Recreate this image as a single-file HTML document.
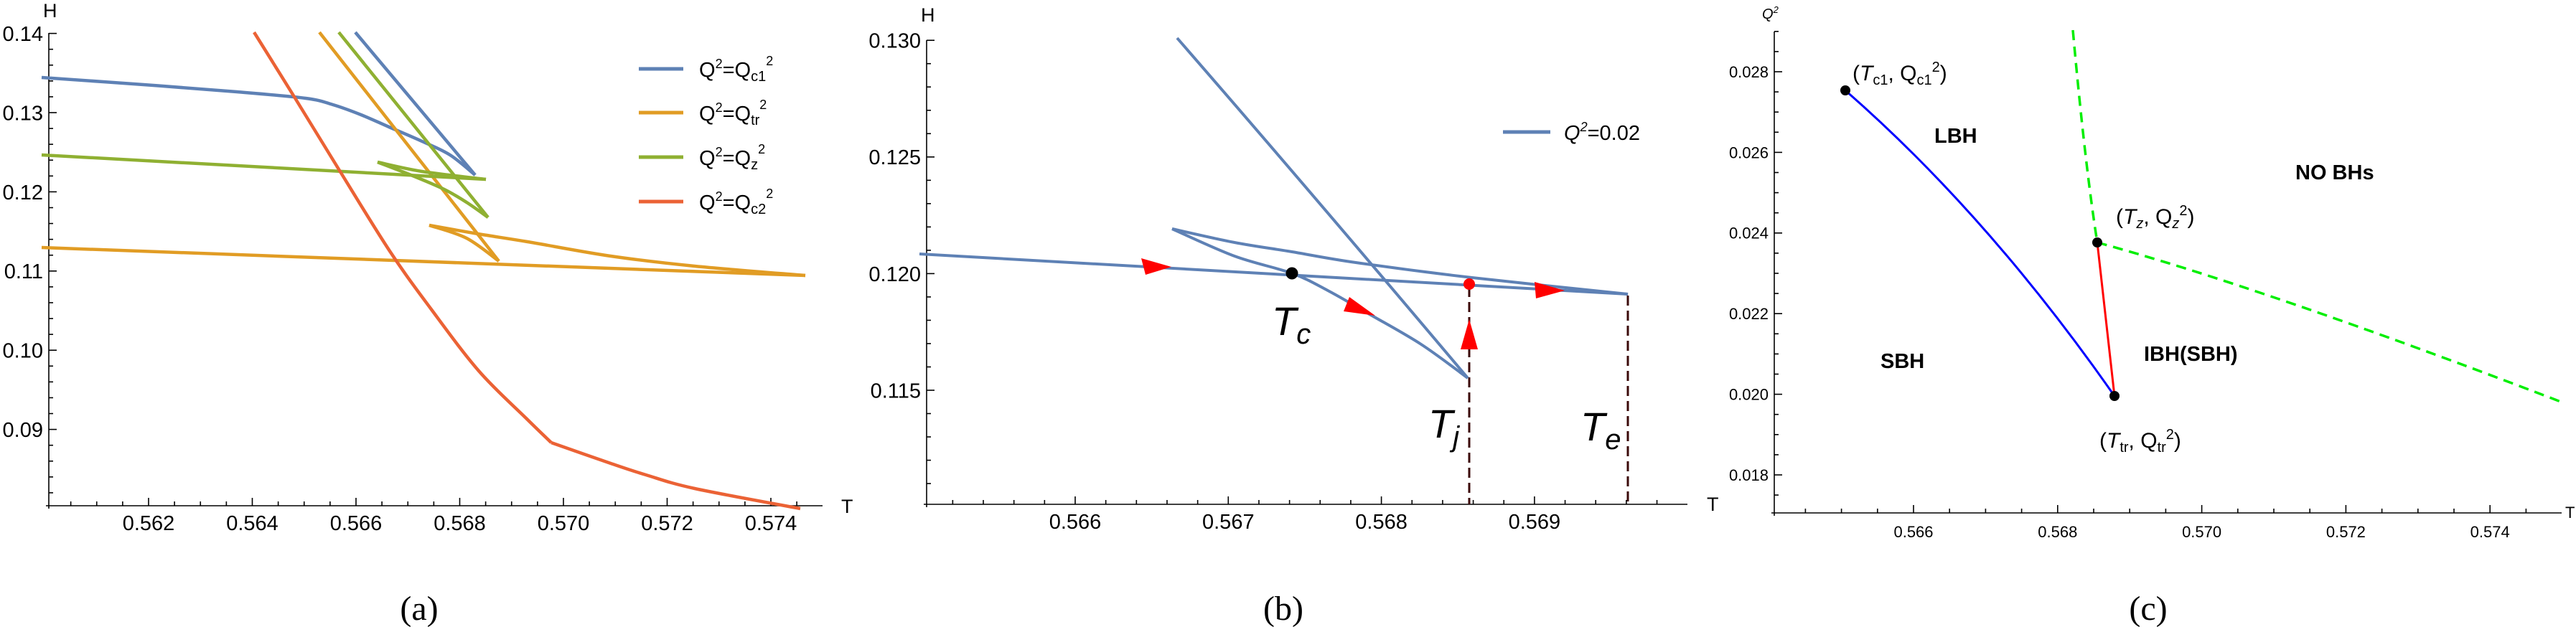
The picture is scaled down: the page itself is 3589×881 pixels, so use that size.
<!DOCTYPE html>
<html><head><meta charset="utf-8"><style>
html,body{margin:0;padding:0;background:#fff;}
svg{display:block;}
text{font-family:"Liberation Sans",sans-serif;}
text.cap{font-family:"Liberation Serif",serif;}
</style></head><body>
<svg id="s" width="3589" height="881" viewBox="0 0 3589 881" xmlns="http://www.w3.org/2000/svg">
<rect width="3589" height="881" fill="#fff"/>
<g id="ax" stroke="#000" stroke-width="1.6" fill="none"></g>
<g id="lb" font-size="29" fill="#000"></g>

<!-- Panel A curves -->
<g fill="none" stroke-width="4.5" stroke-linejoin="round" stroke-linecap="butt">
<polyline class="sm" stroke="#5e81b5" points="58,108 200,118 330,128 426,137 464,146 503,160 542,177 588,197 627,216 662,244"/>
<line stroke="#5e81b5" x1="662" y1="244" x2="495" y2="45"/>
<line stroke="#e19c24" x1="58" y1="345" x2="1122" y2="384"/>
<polyline class="sm" stroke="#e19c24" points="1122,384 968,371 851,357 735,337 666,326 598,314"/>
<polyline class="sm" stroke="#e19c24" points="598,314 650,332 695,364"/>
<line stroke="#e19c24" x1="695" y1="364" x2="445" y2="45"/>
<line stroke="#8fb032" x1="58" y1="216" x2="677" y2="250"/>
<polyline class="sm" stroke="#8fb032" points="677,250 588,239 526,226"/>
<polyline class="sm" stroke="#8fb032" points="526,226 575,245 619,264 650,282 680,303"/>
<line stroke="#8fb032" x1="680" y1="303" x2="472" y2="45"/>
<polyline class="sm" stroke="#eb6235" points="354,45 410,135 472,236 543,350 600,430 667,517 733,583 768,617"/>
<polyline class="sm" stroke="#eb6235" points="768,617 851,646 900,662 968,681 1115,709"/>
</g>
<g stroke-width="5">
<line x1="890" y1="96" x2="952" y2="96" stroke="#5e81b5"/>
<line x1="890" y1="157" x2="952" y2="157" stroke="#e19c24"/>
<line x1="890" y1="219" x2="952" y2="219" stroke="#8fb032"/>
<line x1="890" y1="281" x2="952" y2="281" stroke="#eb6235"/>
</g>
<g font-size="29">
<text x="974" y="107">Q<tspan font-size="18" dy="-12">2</tspan><tspan dy="12">=Q</tspan><tspan font-size="20" dy="6">c1</tspan><tspan font-size="18" dy="-22">2</tspan></text>
<text x="974" y="168">Q<tspan font-size="18" dy="-12">2</tspan><tspan dy="12">=Q</tspan><tspan font-size="20" dy="6">tr</tspan><tspan font-size="18" dy="-22">2</tspan></text>
<text x="974" y="230">Q<tspan font-size="18" dy="-12">2</tspan><tspan dy="12">=Q</tspan><tspan font-size="20" dy="6">z</tspan><tspan font-size="18" dy="-22">2</tspan></text>
<text x="974" y="292">Q<tspan font-size="18" dy="-12">2</tspan><tspan dy="12">=Q</tspan><tspan font-size="20" dy="6">c2</tspan><tspan font-size="18" dy="-22">2</tspan></text>
</g>

<!-- Panel B -->
<g stroke="#3b0a0a" stroke-width="3" stroke-dasharray="14,7">
<line x1="2047" y1="400" x2="2047" y2="703"/>
<line x1="2268" y1="412" x2="2268" y2="703"/>
</g>
<g fill="none" stroke="#5e81b5" stroke-width="4" stroke-linejoin="round">
<line x1="1281" y1="354" x2="2268" y2="410"/>
<polyline class="sm" points="1633,319 1720,338 1800,351 1889,366 2051,387 2268,410"/>
<polyline class="sm" points="1633,319 1720,357 1800,381 1850,405 1908,438 1980,480 2045,527"/>
<path d="M2045,527 Q1820,260 1640,53"/>
</g>
<g fill="#ff0000">
<polygon points="1632,372 1590,360 1596,383"/>
<polygon points="1916,440 1880,414 1872,434"/>
<polygon points="2180,405 2138,393 2140,416"/>
<polygon points="2047,445 2035,487 2059,487"/>
<circle cx="2047" cy="396" r="8"/>
</g>
<circle cx="1800" cy="381" r="8.5" fill="#000"/>
<line x1="2094" y1="184" x2="2160" y2="184" stroke="#5e81b5" stroke-width="5"/>
<text x="2179" y="195" font-size="29" font-style="italic">Q<tspan font-size="18" dy="-12">2</tspan><tspan dy="12" font-style="normal">=0.02</tspan></text>
<g font-size="56" font-style="italic">
<text x="1772" y="467">T<tspan font-size="40" dy="12">c</tspan></text>
<text x="1990" y="610">T<tspan font-size="40" dy="12">j</tspan></text>
<text x="2202" y="614">T<tspan font-size="40" dy="12">e</tspan></text>
</g>

<!-- Panel C -->
<g fill="none" stroke-width="3">
<path stroke="#0000ff" d="M2571,126 Q2770,300 2946,552"/>
<line stroke="#ff0000" x1="2922" y1="338" x2="2946" y2="552"/>
<path stroke="#00ee00" stroke-width="3.5" stroke-dasharray="14,9" d="M2888,42 Q2905,230 2922,338"/>
<path stroke="#00ee00" stroke-width="3.5" stroke-dasharray="14,9" d="M2922,338 Q3150,400 3573,562"/>
</g>
<g fill="#000"><circle cx="2571" cy="126" r="7"/><circle cx="2922" cy="338" r="7"/><circle cx="2946" cy="552" r="7"/></g>
<g font-size="30">
<text x="2581" y="112">(<tspan font-style="italic">T</tspan><tspan font-size="20" dy="6">c1</tspan><tspan dy="-6">, Q</tspan><tspan font-size="20" dy="6">c1</tspan><tspan font-size="20" dy="-18">2</tspan><tspan dy="12">)</tspan></text>
<text x="2948" y="312">(<tspan font-style="italic">T</tspan><tspan font-size="20" dy="6" font-style="italic">z</tspan><tspan dy="-6">, Q</tspan><tspan font-size="20" dy="6" font-style="italic">z</tspan><tspan font-size="20" dy="-18">2</tspan><tspan dy="12">)</tspan></text>
<text x="2925" y="624">(<tspan font-style="italic">T</tspan><tspan font-size="20" dy="6">tr</tspan><tspan dy="-6">, Q</tspan><tspan font-size="20" dy="6">tr</tspan><tspan font-size="20" dy="-18">2</tspan><tspan dy="12">)</tspan></text>
</g>
<g font-size="29" font-weight="bold">
<text x="2695" y="199">LBH</text>
<text x="3198" y="250">NO BHs</text>
<text x="2987" y="503">IBH(SBH)</text>
<text x="2620" y="513">SBH</text>
</g>

<!-- captions -->
<g font-size="48" text-anchor="middle">
<text class="cap" x="584" y="864">(a)</text>
<text class="cap" x="1788" y="864">(b)</text>
<text class="cap" x="2993" y="864">(c)</text>
</g>
</svg>
<script>
(function(){
var NS='http://www.w3.org/2000/svg';
var pls=document.querySelectorAll('polyline.sm');
for(var i=0;i<pls.length;i++){
  var pl=pls[i],pts=pl.getAttribute('points').trim().split(/\s+/).map(function(s){var a=s.split(',');return [+a[0],+a[1]];});
  var d='M'+pts[0][0]+','+pts[0][1];
  for(var k=0;k<pts.length-1;k++){
    var p0=pts[k-1]||pts[k],p1=pts[k],p2=pts[k+1],p3=pts[k+2]||p2;
    var c1=[p1[0]+(p2[0]-p0[0])/6,p1[1]+(p2[1]-p0[1])/6],c2=[p2[0]-(p3[0]-p1[0])/6,p2[1]-(p3[1]-p1[1])/6];
    d+=' C'+c1.join(',')+' '+c2.join(',')+' '+p2.join(',');
  }
  var p=document.createElementNS(NS,'path');p.setAttribute('d',d);
  if(pl.getAttribute('stroke'))p.setAttribute('stroke',pl.getAttribute('stroke'));
  pl.parentNode.replaceChild(p,pl);
}
var ax=document.getElementById('ax'),lb=document.getElementById('lb');
function L(x1,y1,x2,y2){var e=document.createElementNS(NS,'line');e.setAttribute('x1',x1);e.setAttribute('y1',y1);e.setAttribute('x2',x2);e.setAttribute('y2',y2);ax.appendChild(e);}
function T(x,y,s,a,fs,it){var e=document.createElementNS(NS,'text');e.setAttribute('x',x);e.setAttribute('y',y);e.setAttribute('text-anchor',a);e.setAttribute('font-size',fs);if(it)e.setAttribute('font-style','italic');e.textContent=s;lb.appendChild(e);return e;}
function isMaj(v,M){return Math.abs(Math.round(v/M)*M-v)<1e-7;}
function panel(p){
  L(p.x0,p.yTop,p.x0,p.y0+4);L(p.x0-4,p.y0,p.xR,p.y0);
  var n=Math.round((p.xe-p.xs)/p.xm);
  for(var i=0;i<=n;i++){
    var v=p.xs+i*p.xm,X=p.X(v);if(X<p.x0+2||X>p.xR)continue;
    var maj=isMaj(v,p.xM);
    L(X,p.y0,X,p.y0-(maj?11:6));
    if(maj&&p.xl(v))T(X,p.y0+34,v.toFixed(3),'middle',p.fs);
  }
  n=Math.round((p.ye-p.ys)/p.ym);
  for(var i=0;i<=n;i++){
    var v=p.ys+i*p.ym,Y=p.Y(v);if(Y>p.y0-2||Y<p.yTop-2)continue;
    var maj=isMaj(v,p.yM);
    L(p.x0,Y,p.x0+(maj?11:6),Y);
    if(maj)T(p.x0-8,Y+p.fs*0.36,v.toFixed(p.yd),'end',p.fs);
  }
}
panel({x0:68,y0:705,yTop:46,xR:1146,X:function(t){return 207+(t-0.562)/0.002*144.5;},Y:function(h){return 46.6+(0.14-h)*11040;},
 xs:0.5595,xe:0.576,xm:0.0005,xM:0.002,ys:0.080,ye:0.140,ym:0.002,yM:0.01,yd:2,fs:29,xl:function(v){return v>0.561;}});
panel({x0:1291,y0:703,yTop:56,xR:2351,X:function(t){return 1498+(t-0.566)*213300;},Y:function(h){return 56.2+(0.130-h)*32520;},
 xs:0.5650,xe:0.5702,xm:0.0002,xM:0.001,ys:0.110,ye:0.130,ym:0.001,yM:0.005,yd:3,fs:29,xl:function(v){return v>0.5655;}});
panel({x0:2472,y0:715,yTop:44,xR:3569,X:function(t){return 2666+(t-0.566)*100400;},Y:function(q){return 100+(0.028-q)*56200;},
 xs:0.5645,xe:0.5750,xm:0.0005,xM:0.002,ys:0.017,ye:0.029,ym:0.0005,yM:0.002,yd:3,fs:22,xl:function(v){return v>0.5655;}});
T(60,24,'H','start',27);T(1283,30,'H','start',27);
T(1172,715,'T','start',27);T(2378,712,'T','start',27);T(3574,722,'T','start',22);
var q=T(2455,26,'Q','start',20,true);var s=document.createElementNS(NS,'tspan');s.setAttribute('font-size','13');s.setAttribute('dy','-8');s.textContent='2';q.appendChild(s);
})();
</script>
</body></html>
